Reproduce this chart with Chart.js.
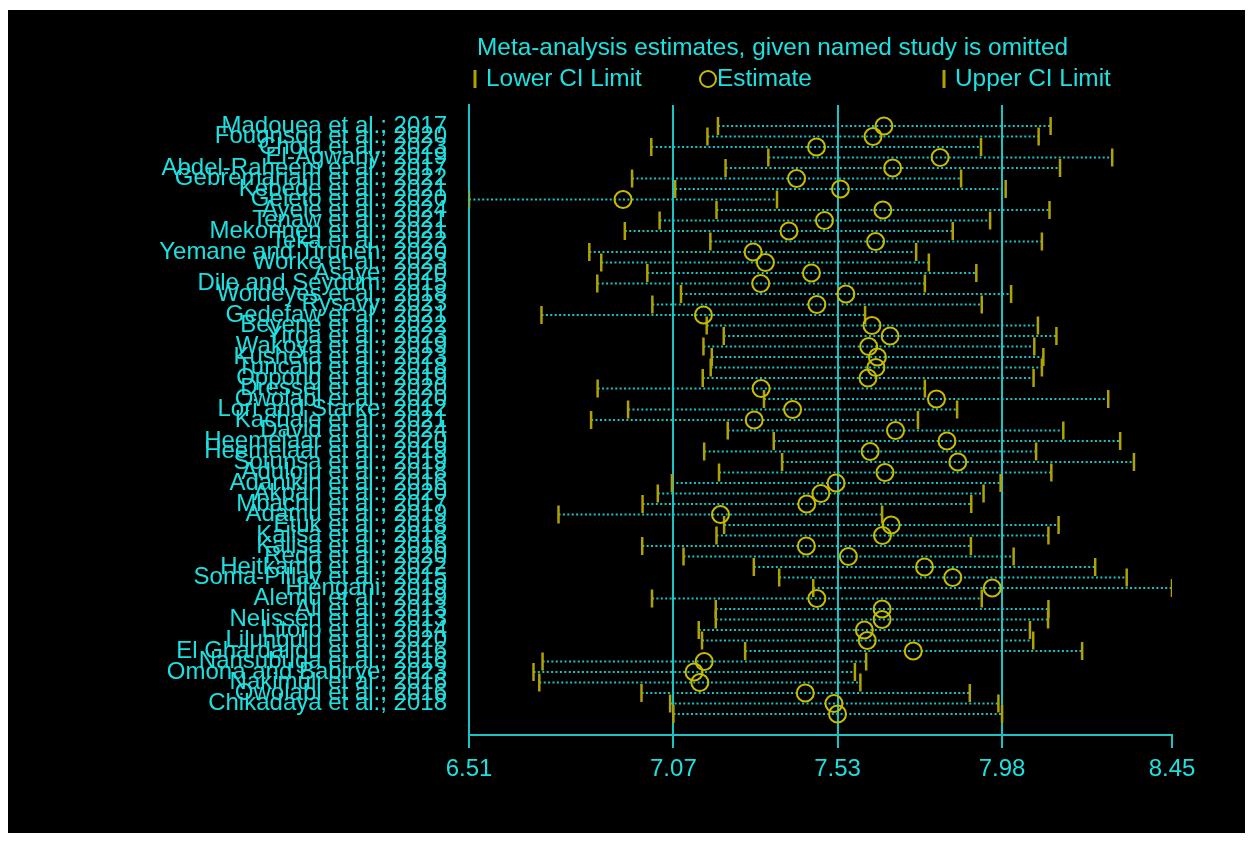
<!DOCTYPE html>
<html>
<head>
<meta charset="utf-8">
<script src="https://cdn.jsdelivr.net/npm/chart.js@4.4.1/dist/chart.umd.min.js"></script>
<style>
  html, body { margin: 0; padding: 0; background: #ffffff; }
  #panel { position: absolute; left: 8px; top: 10px; width: 1237px; height: 823px; background: #000000; }
  canvas { display: block; }
</style>
</head>
<body>
<div id="panel"><canvas id="chart" width="1237" height="823"></canvas></div>
<script>
// Axis labels, one per row from the top (the bottom row carries no label)
const studies = [
  "Madouea et al.; 2017", "Fougnsou et al.; 2020", "Chola et al.; 2023", "El-Agwany; 2019",
  "Abdel-Raheem et al.; 2017", "Gebremariam et al.; 2022", "Kebede et al.; 2021", "Geleto et al.; 2020",
  "Ayele et al.; 2024", "Tenaw et al.; 2021", "Mekonnen et al.; 2021", "Teka et al.; 2022",
  "Yemane and Tiruneh; 2020", "Worke et al.; 2023", "Asaye; 2020", "Dile and Seyoum; 2015",
  "Woldeyes et al.; 2018", "Rysavy; 2023", "Gedefaw et al.; 2021", "Beyene et al.; 2022",
  "Yirga et al.; 2023", "Wakoya et al.; 2019", "Kusheta et al.; 2023", "Tuncalp et al.; 2018",
  "Oppong et al.; 2019", "Dressel et al.; 2020", "Owolabi et al.; 2020", "Lori and Starke; 2012",
  "Kachale et al.; 2021", "David et al.; 2024", "Heemelaar et al.; 2020", "Heemelaar et al.; 2019",
  "Sotunsa et al.; 2019", "Aduloju et al.; 2018", "Adanikin et al.; 2016", "Akpan et al.; 2020",
  "Mbachu et al.; 2017", "Adamu et al.; 2019", "Etuk et al.; 2018", "Kalisa et al.; 2018",
  "Kalisa et al.; 2016", "Reda et al.; 2020", "Heitkamp et al.; 2022", "Soma-Pillay et al.; 2015",
  "Hlengani; 2019", "Alemu et al.; 2019", "Ali et al.; 2013", "Nelissen et al.; 2013",
  "Litorp et al.; 2014", "Lilungulu et al.; 2020", "El Ghardallou et al.; 2016", "Nansubuga et al.; 2016",
  "Omona and Babirye; 2023", "Nakimuli et al.; 2016", "Owolabi et al.; 2016", "Chikadaya et al.; 2018"
];

// Pooled estimate and 95% CI with one study left out, per row
const lowerCI = [7.197,7.168,7.013,7.336,7.218,6.960,7.079,6.510,7.193,7.036,6.940,7.176,6.842,6.875,7.002,6.864,7.095,7.016,6.710,7.166,7.213,7.157,7.180,7.177,7.155,6.865,7.324,6.949,6.847,7.224,7.351,7.159,7.374,7.200,7.070,7.031,6.989,6.757,7.214,7.193,6.988,7.102,7.296,7.366,7.460,7.015,7.191,7.191,7.144,7.153,7.272,6.713,6.688,6.704,6.986,7.065,7.074];
const estimate = [7.655,7.625,7.469,7.810,7.679,7.414,7.535,6.935,7.652,7.491,7.393,7.632,7.294,7.328,7.455,7.315,7.550,7.470,7.157,7.622,7.672,7.613,7.637,7.633,7.611,7.316,7.800,7.403,7.297,7.687,7.829,7.617,7.859,7.658,7.523,7.481,7.442,7.204,7.675,7.651,7.441,7.557,7.767,7.845,7.954,7.470,7.650,7.650,7.601,7.609,7.736,7.159,7.131,7.147,7.438,7.517,7.527];
const upperCI = [8.115,8.082,7.923,8.285,8.141,7.868,7.991,7.360,8.112,7.948,7.845,8.091,7.744,7.779,7.910,7.768,8.006,7.925,7.603,8.080,8.131,8.070,8.095,8.091,8.068,7.768,8.274,7.857,7.749,8.150,8.307,8.075,8.345,8.117,7.977,7.930,7.896,7.650,8.137,8.109,7.895,8.013,8.238,8.325,8.450,7.925,8.109,8.108,8.058,8.067,8.202,7.606,7.575,7.590,7.892,7.971,7.981];

// x axis: smallest lower limit, full-data CI and estimate, largest upper limit
const xTickValues = [6.51, 7.074, 7.527, 7.981, 8.45];
const xTickLabels = ["6.51", "7.07", "7.53", "7.98", "8.45"];

const titleText = "Meta-analysis estimates, given named study is omitted";
const legendLabels = ["Lower CI Limit", "Estimate", "Upper CI Limit"];

const CYAN_TEXT = "#1fe0e0";
const CYAN_LINE = "#19c4c4";
const YELLOW_TICK = "#b0a200";
const YELLOW_RING = "#c8bc00";
const FONT = '"Liberation Sans", Arial, sans-serif';

// row i sits at position i + 2 on a 0..60 axis (two empty slots above and below)
const rowPos = lowerCI.map((_, i) => i + 2);

const ciSegments = [];
rowPos.forEach((y, i) => {
  ciSegments.push({ x: lowerCI[i], y: y });
  ciSegments.push({ x: upperCI[i], y: y });
  ciSegments.push({ x: upperCI[i], y: null });
});

const headerPlugin = {
  id: "header",
  afterDraw(chart) {
    const ctx = chart.ctx;
    ctx.save();
    ctx.font = "24.4px " + FONT;
    ctx.fillStyle = CYAN_TEXT;
    ctx.textBaseline = "middle";
    ctx.textAlign = "left";
    ctx.fillText(titleText, 469, 38);
    const ly = 69;
    // lower limit key
    ctx.strokeStyle = YELLOW_TICK; ctx.lineWidth = 3;
    ctx.beginPath(); ctx.moveTo(467, ly - 9); ctx.lineTo(467, ly + 9); ctx.stroke();
    ctx.fillText(legendLabels[0], 478, ly);
    // estimate key
    ctx.strokeStyle = YELLOW_RING; ctx.lineWidth = 2;
    ctx.beginPath(); ctx.arc(700, ly, 8, 0, Math.PI * 2); ctx.stroke();
    ctx.fillText(legendLabels[1], 709, ly);
    // upper limit key
    ctx.strokeStyle = YELLOW_TICK; ctx.lineWidth = 3;
    ctx.beginPath(); ctx.moveTo(936, ly - 9); ctx.lineTo(936, ly + 9); ctx.stroke();
    ctx.fillText(legendLabels[2], 947, ly);
    ctx.restore();
  }
};

new Chart(document.getElementById("chart"), {
  type: "scatter",
  data: {
    datasets: [
      {
        label: "Estimate",
        data: rowPos.map((y, i) => ({ x: estimate[i], y: y })),
        pointStyle: "circle",
        pointRadius: 8.5,
        pointBorderWidth: 2,
        pointBorderColor: YELLOW_RING,
        pointBackgroundColor: "rgba(0,0,0,0)",
        order: 1
      },
      {
        label: "Lower CI Limit",
        data: rowPos.map((y, i) => ({ x: lowerCI[i], y: y })),
        pointStyle: "line",
        rotation: 90,
        pointRadius: 9,
        pointBorderWidth: 2.5,
        pointBorderColor: YELLOW_TICK,
        order: 2
      },
      {
        label: "Upper CI Limit",
        data: rowPos.map((y, i) => ({ x: upperCI[i], y: y })),
        pointStyle: "line",
        rotation: 90,
        pointRadius: 9,
        pointBorderWidth: 2.5,
        pointBorderColor: YELLOW_TICK,
        order: 3
      },
      {
        label: "CI",
        data: ciSegments,
        showLine: true,
        spanGaps: false,
        borderColor: CYAN_LINE,
        borderWidth: 2,
        borderDash: [2, 2.4],
        pointRadius: 0,
        order: 4
      }
    ]
  },
  options: {
    responsive: false,
    animation: false,
    devicePixelRatio: 1,
    events: [],
    layout: { padding: { top: 95, right: 73, left: 0, bottom: 0 } },
    plugins: { legend: { display: false }, tooltip: { enabled: false }, title: { display: false } },
    scales: {
      x: {
        type: "linear",
        min: 6.51,
        max: 8.45,
        afterBuildTicks(scale) { scale.ticks = xTickValues.map(v => ({ value: v })); },
        afterFit(scale) { scale.height = 98; },
        ticks: {
          autoSkip: false,
          maxRotation: 0,
          color: CYAN_TEXT,
          font: { family: FONT, size: 24 },
          padding: 7,
          callback: (v, i) => xTickLabels[i]
        },
        grid: {
          color: (c) => (c.index === xTickValues.length - 1 ? "rgba(0,0,0,0)" : CYAN_LINE),
          tickColor: CYAN_LINE,
          lineWidth: 2,
          tickLength: 13
        },
        border: { display: true, color: CYAN_LINE, width: 2 }
      },
      y: {
        type: "linear",
        reverse: true,
        min: 0,
        max: 60,
        afterFit(scale) { scale.width = 461; },
        ticks: {
          stepSize: 1,
          autoSkip: false,
          color: CYAN_TEXT,
          font: { family: FONT, size: 24 },
          padding: 22,
          callback: (v) => (Number.isInteger(v) && v >= 2 && v - 2 < studies.length ? studies[v - 2] : "")
        },
        grid: { display: false, drawTicks: false },
        border: { display: true, color: CYAN_LINE, width: 2 }
      }
    }
  },
  plugins: [headerPlugin]
});
</script>
</body>
</html>
